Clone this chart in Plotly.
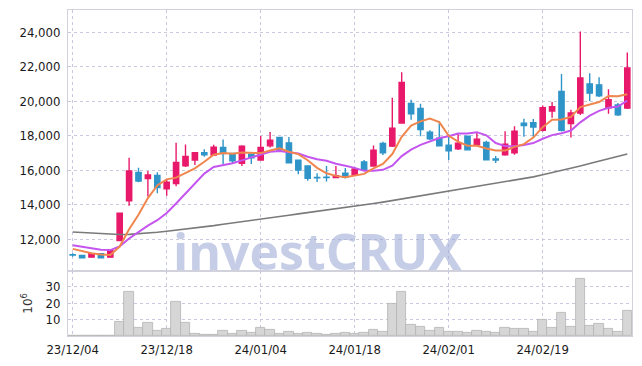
import plotly.graph_objects as go

dates = ["23/12/04","23/12/05","23/12/06","23/12/07","23/12/08",
         "23/12/11","23/12/12","23/12/13","23/12/14","23/12/15",
         "23/12/18","23/12/19","23/12/20","23/12/21","23/12/22",
         "23/12/26","23/12/27","23/12/28","24/01/02","24/01/03",
         "24/01/04","24/01/05","24/01/08","24/01/09","24/01/10",
         "24/01/11","24/01/12","24/01/15","24/01/16","24/01/17",
         "24/01/18","24/01/19","24/01/22","24/01/23","24/01/24",
         "24/01/25","24/01/26","24/01/29","24/01/30","24/01/31",
         "24/02/01","24/02/02","24/02/05","24/02/06","24/02/07",
         "24/02/08","24/02/13","24/02/14","24/02/15","24/02/16",
         "24/02/19","24/02/20","24/02/21","24/02/22","24/02/23",
         "24/02/26","24/02/27","24/02/28","24/02/29","24/03/04"]

open_ = [11120,11070,10973,11165,10973,11932,14234,15883,15519,15710,
         14924,15231,16267,16593,17016,16881,17322,16977,16401,16938,
         16593,17418,17897,17590,16593,16248,15580,15600,15577,15827,
         15731,16479,16249,17553,17400,18742,19874,19586,18205,17860,
         17457,17246,17975,17477,17611,16652,16901,17016,18723,18762,
         18320,19433,20565,18704,19318,21006,20948,19625,19778,19605]
high = [11200,11080,11180,11200,11450,13560,16727,16152,15960,15883,
        15500,17590,17494,17016,17226,17475,17782,16977,17456,16960,
        17993,18223,17897,17936,16593,16248,15827,16249,16249,16134,
        16100,16594,17438,17649,20200,21677,20085,19855,18320,18857,
        18090,18167,18000,18225,17707,16824,18263,18550,18992,18973,
        19759,19951,21581,19509,24036,21620,21390,20699,19893,22828]
low = [11000,10930,10950,10930,10950,11900,13946,15308,14483,14675,
       14522,15077,16190,16305,16785,16850,16363,16363,16248,16363,
       16550,17322,17100,16400,15768,15400,15328,15348,15540,15520,
       15700,15990,16200,16882,17350,18700,18934,17975,17750,17400,
       16594,17170,17150,17450,16600,16421,16850,16900,17937,17937,
       18250,19049,18250,17899,19200,20008,20250,19279,19150,19550]
close = [11100,10940,11165,10935,11357,13524,15960,15384,15730,15001,
         15308,16458,16804,17016,16900,17341,16977,16555,17399,16727,
         17322,17744,17168,16440,16018,15538,15560,15580,15693,15597,
         16076,16019,17170,17016,18435,21082,19279,18359,17822,17419,
         17131,17572,17189,17802,16614,16594,17515,18263,18589,18512,
         19625,19682,18320,19318,21351,20469,20315,20085,19222,21926]

ma_short = [11450,11320,11200,11130,11099,11584,12588,13432,14391,15120,
            15477,15576,15860,16117,16497,16904,17008,16958,17034,17000,
            16996,17149,17272,17080,16938,16582,16145,15827,15678,15594,
            15701,15793,16111,16376,16943,17944,18596,18834,18995,18792,
            18002,17661,17427,17423,17262,17154,17143,17358,17515,17895,
            18501,18934,18946,19091,19659,19828,19955,20308,20288,20403]
ma_mid = [11660,11560,11480,11400,11380,11600,12050,12450,12800,13110,
          13530,14082,14646,15254,15809,16190,16292,16409,16576,16749,
          16950,17079,17115,17057,16969,16789,16647,16550,16379,16266,
          16141,15969,15969,16027,16268,16823,17195,17473,17686,17868,
          17973,18129,18130,18209,18027,17578,17402,17392,17469,17578,
          17828,18039,18152,18303,18777,19164,19444,19627,19690,20031]
ma_long = [12430,12400,12370,12340,12300,12280,12290,12320,12360,12410,
           12470,12530,12600,12660,12730,12800,12880,12950,13030,13100,
           13180,13250,13330,13400,13480,13550,13630,13700,13780,13850,
           13930,14000,14080,14160,14250,14335,14430,14530,14630,14720,
           14810,14900,14990,15080,15170,15250,15330,15410,15500,15620,
           15740,15860,15990,16120,16250,16390,16530,16670,16810,16950]

volume_m = [0.1,0.1,0.1,0.1,0.2,8.4,27.0,4.8,7.8,3.0,
            4.2,21.0,7.8,1.2,0.6,0.6,3.0,1.4,3.0,1.8,
            4.8,3.6,1.4,2.4,1.4,1.8,1.2,1.0,1.2,1.8,
            1.2,1.8,3.5,2.5,19.6,26.9,7.1,5.3,3.1,4.7,
            2.4,2.4,1.8,2.9,2.4,1.8,4.7,4.1,4.1,2.4,
            9.6,4.7,14.1,5.3,34.7,6.5,7.6,4.1,2.4,15.3]

tick_dates = ["23/12/04","23/12/18","24/01/04","24/01/18","24/02/01","24/02/19"]
price_ticks = [12000,14000,16000,18000,20000,22000,24000]
price_labels = ["12,000","14,000","16,000","18,000","20,000","22,000","24,000"]
vol_ticks = [10,20,30]

FONT = "DejaVu Sans Condensed, Liberation Sans Narrow, sans-serif"
GRID = "#c8c8de"
AXLINE = "#d2d2dc"
TICKFONT = dict(family=FONT, size=13, color="#1a1a1a")

fig = go.Figure()

fig.add_trace(go.Candlestick(
    x=dates, open=open_, high=high, low=low, close=close,
    increasing=dict(line=dict(color="#e8196a", width=1.4), fillcolor="#e8196a"),
    decreasing=dict(line=dict(color="#2f95c8", width=1.4), fillcolor="#2f95c8"),
    whiskerwidth=0, xaxis="x", yaxis="y", showlegend=False, hoverinfo="skip"))

fig.add_trace(go.Scatter(x=dates, y=ma_long, mode="lines",
                         line=dict(color="#7a7a7a", width=1.6), xaxis="x", yaxis="y",
                         showlegend=False, hoverinfo="skip"))
fig.add_trace(go.Scatter(x=dates, y=ma_mid, mode="lines",
                         line=dict(color="#c455ee", width=2), xaxis="x", yaxis="y",
                         showlegend=False, hoverinfo="skip"))
fig.add_trace(go.Scatter(x=dates, y=ma_short, mode="lines",
                         line=dict(color="#f0864e", width=2), xaxis="x", yaxis="y",
                         showlegend=False, hoverinfo="skip"))

fig.add_trace(go.Bar(x=dates, y=volume_m, xaxis="x2", yaxis="y2",
                     marker=dict(color="#d6d6d6", line=dict(color="#b4b4b4", width=0.8)),
                     showlegend=False, hoverinfo="skip"))

fig.add_annotation(text="<b>investCRUX</b>", xref="paper", yref="paper",
                   x=0.4425, y=0.262, xanchor="center", yanchor="middle",
                   showarrow=False,
                   font=dict(family="Open Sans, Lato, sans-serif", size=50, weight=800,
                             color="rgba(160,172,214,0.6)"))

fig.update_layout(
    width=642, height=366,
    margin=dict(l=68, r=9, t=9, b=29),
    paper_bgcolor="white", plot_bgcolor="white",
    bargap=0, boxgap=0.2,
    font=dict(family=FONT, size=13, color="#1a1a1a"),
    xaxis=dict(type="category", categoryorder="array", categoryarray=dates,
               domain=[0, 1], anchor="y", range=[-0.5, 59.5],
               rangeslider=dict(visible=False),
               tickvals=tick_dates, showticklabels=False,
               showgrid=True, gridcolor=GRID, griddash="dot", gridwidth=1,
               showline=True, linecolor=AXLINE, mirror=True, zeroline=False),
    xaxis2=dict(type="category", categoryorder="array", categoryarray=dates,
                domain=[0, 1], anchor="y2", matches="x", range=[-0.5, 59.5],
                tickvals=tick_dates, ticktext=tick_dates,
                showgrid=True, gridcolor=GRID, griddash="dot", gridwidth=1,
                showline=True, linecolor=AXLINE, mirror=True, zeroline=False,
                ticks="outside", ticklen=1, tickcolor="rgba(0,0,0,0)",
                tickfont=TICKFONT),
    yaxis=dict(domain=[0.2, 1], anchor="x", range=[10182, 25283],
               tickvals=price_ticks, ticktext=price_labels,
               showgrid=True, gridcolor=GRID, griddash="dot", gridwidth=1,
               showline=True, linecolor=AXLINE, mirror=True, zeroline=False,
               ticks="outside", ticklen=4, tickcolor="rgba(0,0,0,0)",
               tickfont=TICKFONT),
    yaxis2=dict(domain=[0, 0.2], anchor="x2", range=[0, 39.6],
                tickvals=vol_ticks,
                showgrid=True, gridcolor=GRID, griddash="dot", gridwidth=1,
                showline=True, linecolor=AXLINE, mirror=True, zeroline=False,
                ticks="outside", ticklen=4, tickcolor="rgba(0,0,0,0)",
                tickfont=TICKFONT,
                title=dict(text="10<sup>6</sup>", standoff=10,
                           font=dict(family="DejaVu Sans, sans-serif", size=12, color="#333333"))),
)

fig.write_html("out.html", config={"displayModeBar": False},
               post_script="document.body.style.margin='0';")
